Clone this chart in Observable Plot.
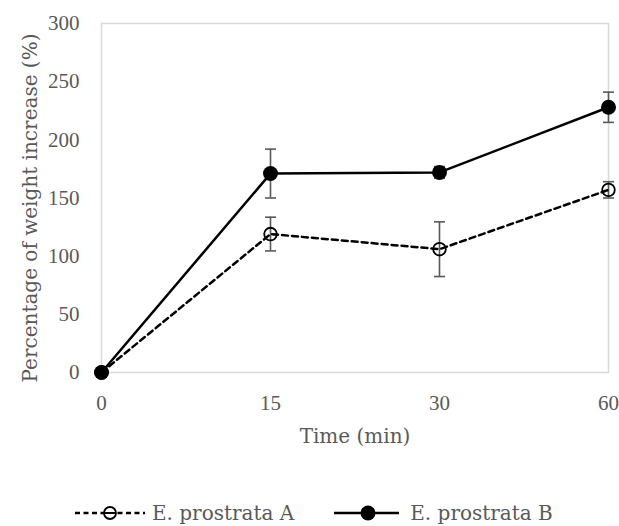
<!DOCTYPE html>
<html>
<head>
<meta charset="utf-8">
<script src="https://cdn.jsdelivr.net/npm/d3@7"></script>
<script src="https://cdn.jsdelivr.net/npm/@observablehq/plot@0.6"></script>
<style>
  html, body { margin: 0; padding: 0; background: #fff; }
  #chart { width: 619px; }
  #chart > svg { display: block; }
  .legend { margin-top: 6px; padding-left: 75px; height: 24px; display: flex; align-items: center; font-family: "DejaVu Serif", serif; font-size: 20px; color: #595959; white-space: nowrap; line-height: 24px; }
  .legend .item { display: flex; align-items: center; }
  .legend svg { display: block; }
</style>
</head>
<body>
<div id="chart"></div>
<script>
const times = ["0", "15", "30", "60"];
const seriesA = [0, 119, 106, 157];
const errA = [0, 14.5, 23.5, 7];
const seriesB = [0, 171, 172, 228];
const errB = [0, 21, 5, 13];
const yTicks = [0, 50, 100, 150, 200, 250, 300];
const seriesNames = ["E. prostrata A", "E. prostrata B"];

const dataA = times.map((t, i) => ({t, v: seriesA[i], e: errA[i]}));
const dataB = times.map((t, i) => ({t, v: seriesB[i], e: errB[i]}));

const cap = { draw(ctx, size) { const r = 5.5; ctx.moveTo(-r, 0); ctx.lineTo(r, 0); } };
const errMarks = (data) => {
  const d = data.filter(d => d.e > 0);
  return [
    Plot.ruleX(d, {x: "t", y1: d => d.v - d.e, y2: d => d.v + d.e, stroke: "#595959", strokeWidth: 1.6}),
    Plot.dot(d, {x: "t", y: d => d.v + d.e, symbol: cap, stroke: "#595959", strokeWidth: 1.6, r: 3}),
    Plot.dot(d, {x: "t", y: d => d.v - d.e, symbol: cap, stroke: "#595959", strokeWidth: 1.6, r: 3})
  ];
};

const chart = Plot.plot({
  width: 619,
  height: 495,
  marginLeft: 101,
  marginRight: 11,
  marginTop: 23,
  marginBottom: 123,
  style: {fontFamily: "Liberation Serif, serif", fontSize: "21px", color: "#595959", background: "#fff"},
  x: {type: "point", domain: times, padding: 0, label: null},
  y: {domain: [0, 300], ticks: yTicks, label: null},
  marks: [
    Plot.frame({stroke: "#d9d9d9", strokeWidth: 1.5}),
    Plot.axisY({ticks: yTicks, tickSize: 0, tickPadding: 22, fontSize: 21, label: null}),
    Plot.axisX({tickSize: 0, tickPadding: 23, fontSize: 21, label: null}),
    Plot.text(["Time (min)"], {frameAnchor: "bottom", dy: 70, fontSize: 20, fontFamily: "DejaVu Serif", fill: "#595959"}),
    Plot.text(["Percentage of weight increase (%)"], {frameAnchor: "left", textAnchor: "middle", dx: -71, dy: 10, rotate: -90, fontSize: 20, fontFamily: "DejaVu Serif", fill: "#595959"}),
    ...errMarks(dataA),
    ...errMarks(dataB),
    Plot.line(dataA, {x: "t", y: "v", stroke: "#000", strokeWidth: 2.5, strokeDasharray: "6,4"}),
    Plot.line(dataB, {x: "t", y: "v", stroke: "#000", strokeWidth: 2.5}),
    Plot.dot(dataA, {x: "t", y: "v", r: 6.3, stroke: "#000", strokeWidth: 1.8, fill: "none"}),
    Plot.dot(dataB, {x: "t", y: "v", r: 7.5, fill: "#000", stroke: "none"})
  ]
});
document.getElementById("chart").appendChild(chart);

const legend = document.createElement("div");
legend.className = "legend";
legend.innerHTML = `
  <div class="item"><svg width="70" height="18"><line x1="0" y1="9" x2="70" y2="9" stroke="#000" stroke-width="2.5" stroke-dasharray="5,3.5"/><circle cx="35" cy="9" r="6" fill="#fff" stroke="#000" stroke-width="1.8"/><line x1="29" y1="9" x2="41" y2="9" stroke="#000" stroke-width="2"/></svg><span style="margin-left:7px">${seriesNames[0]}</span></div>
  <div class="item" style="margin-left:40px"><svg width="65" height="18"><line x1="0" y1="9" x2="65" y2="9" stroke="#000" stroke-width="2.5"/><circle cx="34" cy="9" r="7.5" fill="#000"/></svg><span style="margin-left:11px">${seriesNames[1]}</span></div>`;
document.getElementById("chart").appendChild(legend);
</script>
</body>
</html>
